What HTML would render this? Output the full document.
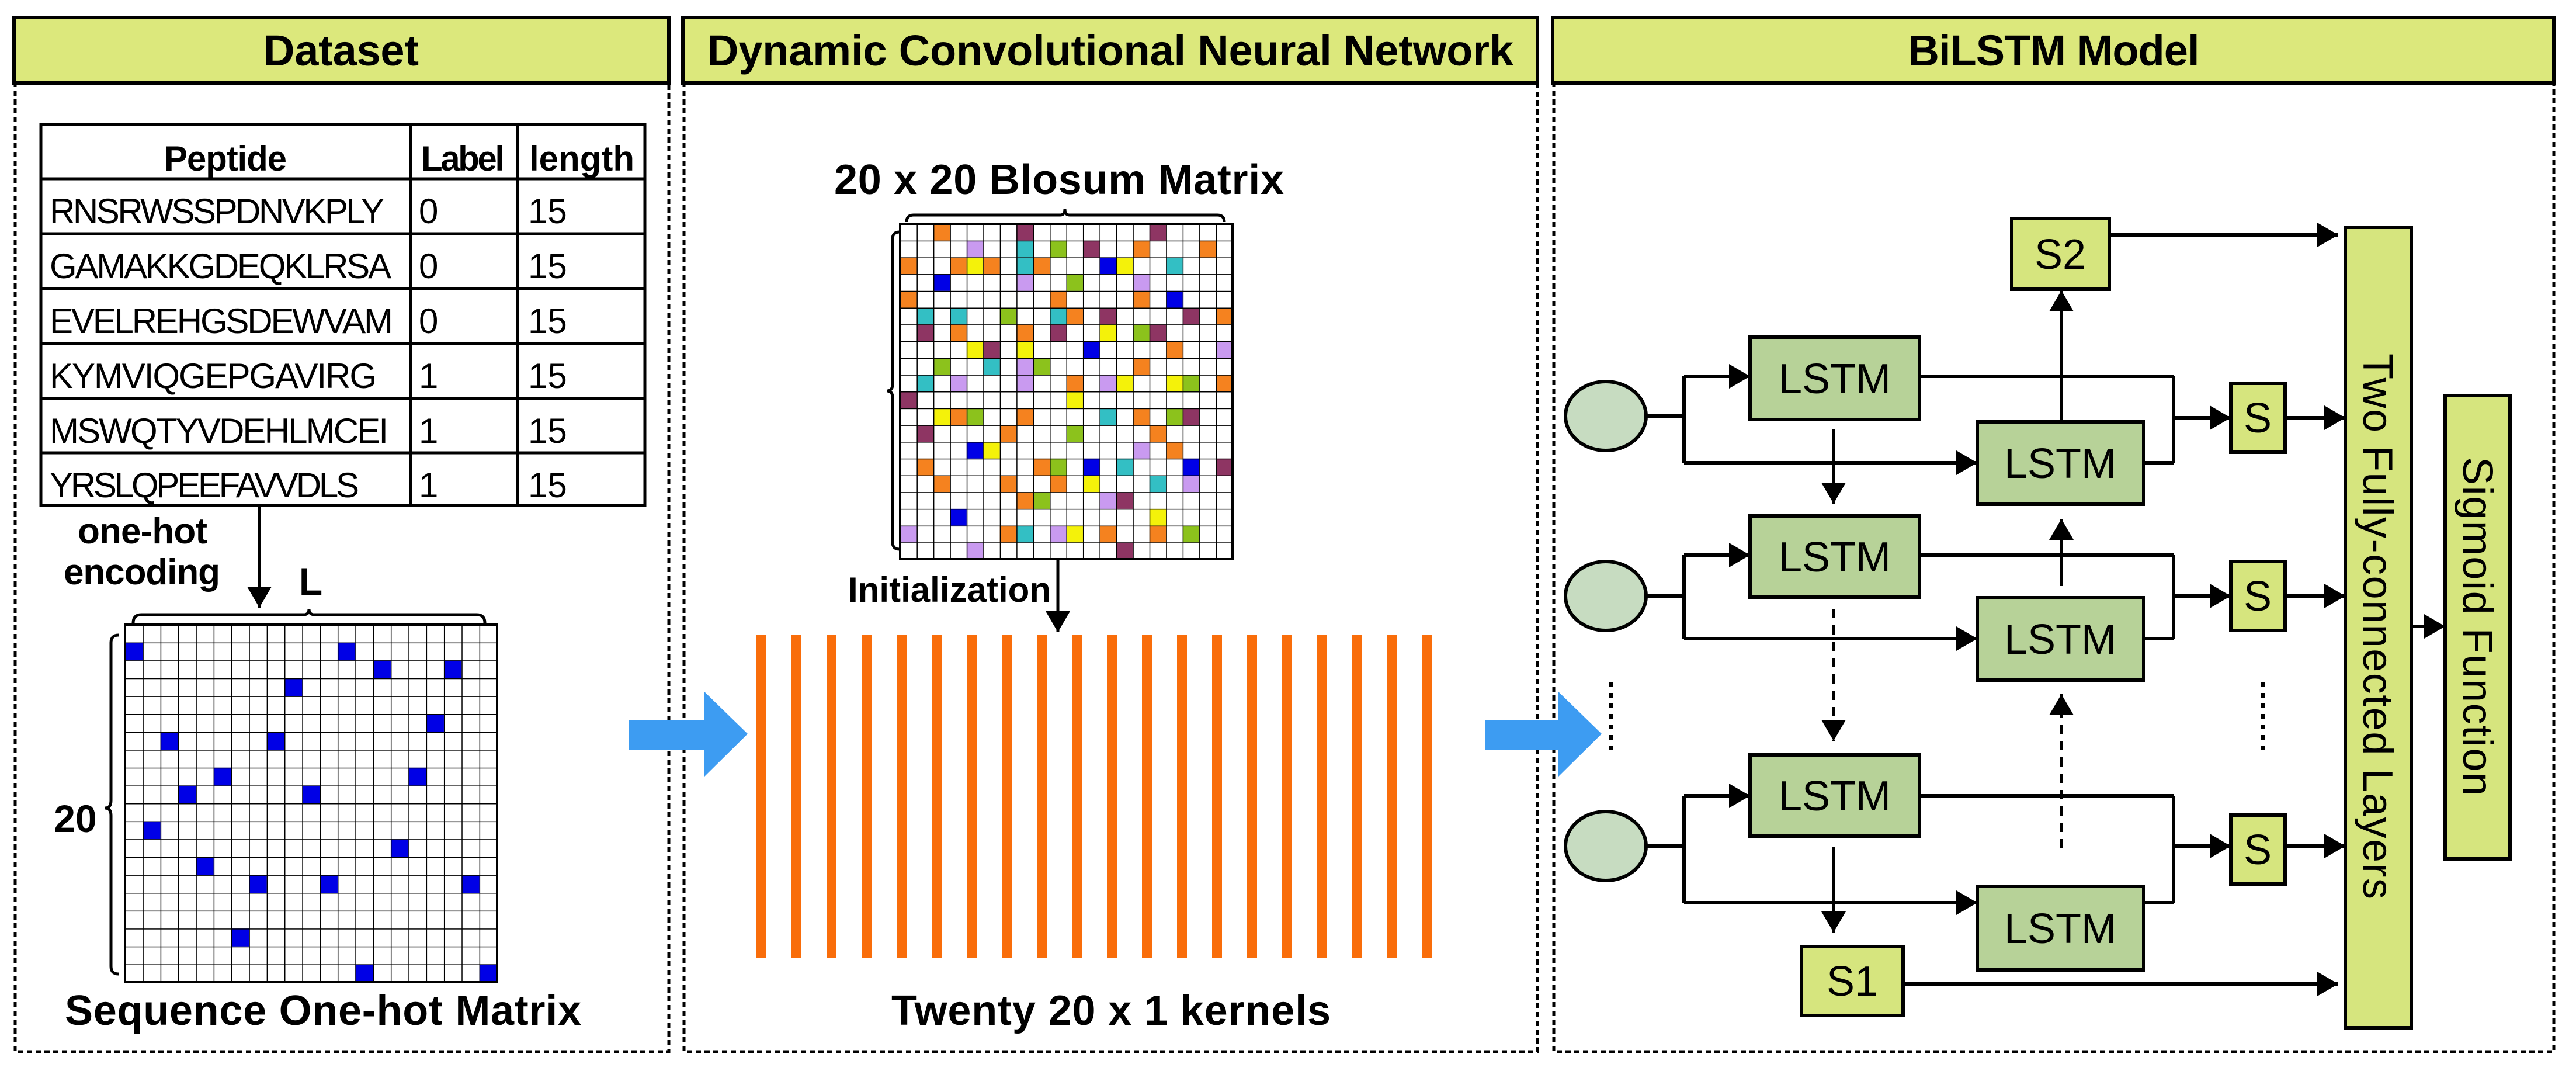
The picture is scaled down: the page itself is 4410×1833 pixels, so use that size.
<!DOCTYPE html>
<html><head><meta charset="utf-8"><style>
html,body{margin:0;padding:0;background:#fff;}
svg{display:block;}
text{font-family:"Liberation Sans",Arial,sans-serif;}
.b{font-weight:bold;}
.o{fill:#f5821f}.m{fill:#8e3563}.p{fill:#c99af0}.c{fill:#33bfc4}.g{fill:#8cc21c}.y{fill:#f4f20a}.bl{fill:#0000e6}
</style></head><body>
<svg width="4410" height="1833" viewBox="0 0 4410 1833" xmlns="http://www.w3.org/2000/svg">
<defs>
<marker id="ah" markerUnits="userSpaceOnUse" markerWidth="40" markerHeight="46" refX="36" refY="23" orient="auto">
<path d="M0,2 L36,23 L0,44 Z" fill="#000"/></marker>
<pattern id="g1" patternUnits="userSpaceOnUse" x="214" y="1069" width="30.33" height="30.6">
<path d="M0,0 H30.33 M0,0 V30.6" stroke="#000" stroke-width="3" fill="none"/></pattern>
<pattern id="g2" patternUnits="userSpaceOnUse" x="1541" y="383" width="28.45" height="28.7">
<path d="M0,0 H28.45 M0,0 V28.7" stroke="#000" stroke-width="3" fill="none"/></pattern>
</defs>
<rect width="4410" height="1833" fill="#fff"/>

<g fill="none" stroke="#000" stroke-width="5" stroke-dasharray="9 6">
<path d="M26,140 V1800 H1145 V140"/>
<path d="M1171,140 V1800 H2632 V140"/>
<path d="M2660,140 V1800 H4372 V140"/>
</g>
<g stroke="#000" stroke-width="6" fill="#dce87c">
<rect x="24" y="30" width="1121" height="112"/>
<rect x="1169" y="30" width="1463" height="112"/>
<rect x="2658" y="30" width="1714" height="112"/>
</g>
<text class="b" x="584" y="112" font-size="74" text-anchor="middle" textLength="266">Dataset</text>
<text class="b" x="1901" y="112" font-size="74" text-anchor="middle" textLength="1380">Dynamic Convolutional Neural Network</text>
<text class="b" x="3516" y="112" font-size="74" text-anchor="middle" textLength="499">BiLSTM Model</text>

<g stroke="#000" stroke-width="5" fill="none">
<rect x="70" y="213" width="1034" height="652"/>
<path d="M703,213 V865 M886,213 V865 M70,306 H1104 M70,400 H1104 M70,494 H1104 M70,588 H1104 M70,682 H1104 M70,775 H1104"/>
</g>
<g font-size="60">
<text class="b" x="386" y="292" text-anchor="middle" font-size="60" textLength="210">Peptide</text>
<text class="b" x="721" y="292" textLength="143" font-size="60">Label</text>
<text class="b" x="906" y="292" textLength="180" font-size="60">length</text>
<text x="85" y="382" textLength="573">RNSRWSSPDNVKPLY</text>
<text x="85" y="476" textLength="585">GAMAKKGDEQKLRSA</text>
<text x="85" y="570" textLength="588">EVELREHGSDEWVAM</text>
<text x="85" y="664" textLength="560">KYMVIQGEPGAVIRG</text>
<text x="85" y="758" textLength="580">MSWQTYVDEHLMCEI</text>
<text x="85" y="851" textLength="530">YRSLQPEEFAVVDLS</text>
<text x="717" y="382">0</text><text x="717" y="476">0</text><text x="717" y="570">0</text>
<text x="717" y="664">1</text><text x="717" y="758">1</text><text x="717" y="851">1</text>
<text x="904" y="382">15</text><text x="904" y="476">15</text><text x="904" y="570">15</text>
<text x="904" y="664">15</text><text x="904" y="758">15</text><text x="904" y="851">15</text>
</g>
<line x1="444" y1="865" x2="444" y2="1040" stroke="#000" stroke-width="6" marker-end="url(#ah)"/>
<text class="b" x="244" y="930" font-size="62" text-anchor="middle" textLength="222">one-hot</text>
<text class="b" x="243" y="1000" font-size="62" text-anchor="middle" textLength="268">encoding</text>
<text class="b" x="532" y="1018" font-size="66" text-anchor="middle">L</text>
<path d="M228,1066 Q228,1052 242,1052 H520 Q529,1052 529,1042 Q529,1052 538,1052 H816 Q830,1052 830,1066" fill="none" stroke="#000" stroke-width="5"/>
<path d="M203,1087 Q190,1087 190,1100 V1370 Q190,1383 180,1383 Q190,1383 190,1396 V1654 Q190,1667 203,1667" fill="none" stroke="#000" stroke-width="5"/>
<text class="b" x="129" y="1424" font-size="66" text-anchor="middle">20</text>

<rect x="214" y="1069" width="637" height="612" fill="#fff"/>
<g transform="translate(214,1069) scale(30.33,30.6)" class="bl">
<rect x="0" y="1" width="1" height="1"/><rect x="12" y="1" width="1" height="1"/>
<rect x="14" y="2" width="1" height="1"/><rect x="18" y="2" width="1" height="1"/>
<rect x="9" y="3" width="1" height="1"/><rect x="17" y="5" width="1" height="1"/>
<rect x="2" y="6" width="1" height="1"/><rect x="8" y="6" width="1" height="1"/>
<rect x="5" y="8" width="1" height="1"/><rect x="16" y="8" width="1" height="1"/>
<rect x="3" y="9" width="1" height="1"/><rect x="10" y="9" width="1" height="1"/>
<rect x="1" y="11" width="1" height="1"/><rect x="15" y="12" width="1" height="1"/>
<rect x="4" y="13" width="1" height="1"/><rect x="7" y="14" width="1" height="1"/>
<rect x="11" y="14" width="1" height="1"/><rect x="19" y="14" width="1" height="1"/>
<rect x="6" y="17" width="1" height="1"/><rect x="13" y="19" width="1" height="1"/>
<rect x="20" y="19" width="1" height="1"/>
</g>
<rect x="214" y="1069" width="637" height="612" fill="url(#g1)"/>
<rect x="214" y="1069" width="637" height="612" fill="none" stroke="#000" stroke-width="4"/>
<text class="b" x="553" y="1754" font-size="72" text-anchor="middle" textLength="884">Sequence One-hot Matrix</text>

<path d="M1076,1233 H1205 V1183 L1280,1256 L1205,1330 V1283 H1076 Z" fill="#3d9cf2"/>
<path d="M2543,1233 H2667 V1183 L2742,1256 L2667,1330 V1283 H2543 Z" fill="#3d9cf2"/>

<text class="b" x="1813" y="332" font-size="72" text-anchor="middle" textLength="770">20 x 20 Blosum Matrix</text>
<path d="M1552,380 Q1552,368 1564,368 H1815 Q1823,368 1823,358 Q1823,368 1831,368 H2084 Q2096,368 2096,380" fill="none" stroke="#000" stroke-width="5"/>
<path d="M1540,397 Q1528,397 1528,409 V658 Q1528,669 1518,669 Q1528,669 1528,680 V928 Q1528,940 1540,940" fill="none" stroke="#000" stroke-width="5"/>
<rect x="1541" y="383" width="569" height="574" fill="#fff"/>
<g transform="translate(1541,383) scale(28.45,28.7)">
<rect class="o" x="2" y="0" width="1" height="1"/><rect class="m" x="7" y="0" width="1" height="1"/><rect class="m" x="15" y="0" width="1" height="1"/>
<rect class="p" x="4" y="1" width="1" height="1"/><rect class="c" x="7" y="1" width="1" height="1"/><rect class="g" x="9" y="1" width="1" height="1"/><rect class="m" x="11" y="1" width="1" height="1"/><rect class="o" x="14" y="1" width="1" height="1"/><rect class="o" x="18" y="1" width="1" height="1"/>
<rect class="o" x="0" y="2" width="1" height="1"/><rect class="o" x="3" y="2" width="1" height="1"/><rect class="y" x="4" y="2" width="1" height="1"/><rect class="o" x="5" y="2" width="1" height="1"/><rect class="c" x="7" y="2" width="1" height="1"/><rect class="o" x="8" y="2" width="1" height="1"/><rect class="bl" x="12" y="2" width="1" height="1"/><rect class="y" x="13" y="2" width="1" height="1"/><rect class="c" x="16" y="2" width="1" height="1"/>
<rect class="bl" x="2" y="3" width="1" height="1"/><rect class="p" x="7" y="3" width="1" height="1"/><rect class="g" x="10" y="3" width="1" height="1"/><rect class="p" x="14" y="3" width="1" height="1"/>
<rect class="o" x="0" y="4" width="1" height="1"/><rect class="o" x="9" y="4" width="1" height="1"/><rect class="o" x="14" y="4" width="1" height="1"/><rect class="bl" x="16" y="4" width="1" height="1"/>
<rect class="c" x="1" y="5" width="1" height="1"/><rect class="c" x="3" y="5" width="1" height="1"/><rect class="g" x="6" y="5" width="1" height="1"/><rect class="c" x="9" y="5" width="1" height="1"/><rect class="o" x="10" y="5" width="1" height="1"/><rect class="m" x="12" y="5" width="1" height="1"/><rect class="m" x="17" y="5" width="1" height="1"/><rect class="o" x="19" y="5" width="1" height="1"/>
<rect class="m" x="1" y="6" width="1" height="1"/><rect class="o" x="3" y="6" width="1" height="1"/><rect class="o" x="7" y="6" width="1" height="1"/><rect class="m" x="9" y="6" width="1" height="1"/><rect class="y" x="12" y="6" width="1" height="1"/><rect class="g" x="14" y="6" width="1" height="1"/><rect class="m" x="15" y="6" width="1" height="1"/>
<rect class="y" x="4" y="7" width="1" height="1"/><rect class="m" x="5" y="7" width="1" height="1"/><rect class="y" x="7" y="7" width="1" height="1"/><rect class="bl" x="11" y="7" width="1" height="1"/><rect class="o" x="16" y="7" width="1" height="1"/><rect class="p" x="19" y="7" width="1" height="1"/>
<rect class="g" x="2" y="8" width="1" height="1"/><rect class="c" x="5" y="8" width="1" height="1"/><rect class="p" x="7" y="8" width="1" height="1"/><rect class="g" x="8" y="8" width="1" height="1"/><rect class="o" x="14" y="8" width="1" height="1"/>
<rect class="c" x="1" y="9" width="1" height="1"/><rect class="p" x="3" y="9" width="1" height="1"/><rect class="p" x="7" y="9" width="1" height="1"/><rect class="o" x="10" y="9" width="1" height="1"/><rect class="p" x="12" y="9" width="1" height="1"/><rect class="y" x="13" y="9" width="1" height="1"/><rect class="y" x="16" y="9" width="1" height="1"/><rect class="g" x="17" y="9" width="1" height="1"/><rect class="o" x="19" y="9" width="1" height="1"/>
<rect class="m" x="0" y="10" width="1" height="1"/><rect class="y" x="10" y="10" width="1" height="1"/>
<rect class="y" x="2" y="11" width="1" height="1"/><rect class="o" x="3" y="11" width="1" height="1"/><rect class="g" x="4" y="11" width="1" height="1"/><rect class="o" x="7" y="11" width="1" height="1"/><rect class="c" x="12" y="11" width="1" height="1"/><rect class="o" x="14" y="11" width="1" height="1"/><rect class="g" x="16" y="11" width="1" height="1"/><rect class="m" x="17" y="11" width="1" height="1"/>
<rect class="m" x="1" y="12" width="1" height="1"/><rect class="o" x="6" y="12" width="1" height="1"/><rect class="g" x="10" y="12" width="1" height="1"/><rect class="o" x="15" y="12" width="1" height="1"/>
<rect class="bl" x="4" y="13" width="1" height="1"/><rect class="y" x="5" y="13" width="1" height="1"/><rect class="p" x="14" y="13" width="1" height="1"/><rect class="o" x="16" y="13" width="1" height="1"/>
<rect class="o" x="1" y="14" width="1" height="1"/><rect class="o" x="8" y="14" width="1" height="1"/><rect class="g" x="9" y="14" width="1" height="1"/><rect class="bl" x="11" y="14" width="1" height="1"/><rect class="c" x="13" y="14" width="1" height="1"/><rect class="bl" x="17" y="14" width="1" height="1"/><rect class="m" x="19" y="14" width="1" height="1"/>
<rect class="o" x="2" y="15" width="1" height="1"/><rect class="o" x="6" y="15" width="1" height="1"/><rect class="o" x="9" y="15" width="1" height="1"/><rect class="y" x="11" y="15" width="1" height="1"/><rect class="c" x="15" y="15" width="1" height="1"/><rect class="p" x="17" y="15" width="1" height="1"/>
<rect class="o" x="7" y="16" width="1" height="1"/><rect class="g" x="8" y="16" width="1" height="1"/><rect class="p" x="12" y="16" width="1" height="1"/><rect class="m" x="13" y="16" width="1" height="1"/>
<rect class="bl" x="3" y="17" width="1" height="1"/><rect class="y" x="15" y="17" width="1" height="1"/>
<rect class="p" x="0" y="18" width="1" height="1"/><rect class="o" x="6" y="18" width="1" height="1"/><rect class="c" x="7" y="18" width="1" height="1"/><rect class="p" x="9" y="18" width="1" height="1"/><rect class="y" x="10" y="18" width="1" height="1"/><rect class="o" x="12" y="18" width="1" height="1"/><rect class="o" x="15" y="18" width="1" height="1"/><rect class="g" x="17" y="18" width="1" height="1"/>
<rect class="p" x="4" y="19" width="1" height="1"/><rect class="m" x="13" y="19" width="1" height="1"/>
</g>
<rect x="1541" y="383" width="569" height="574" fill="url(#g2)"/>
<rect x="1541" y="383" width="569" height="574" fill="none" stroke="#000" stroke-width="4"/>
<text class="b" x="1452" y="1030" font-size="60" textLength="347">Initialization</text>
<line x1="1811" y1="957" x2="1811" y2="1082" stroke="#000" stroke-width="5" marker-end="url(#ah)"/>

<g fill="#f96d0a">
<rect x="1295" y="1086" width="17" height="554"/><rect x="1355" y="1086" width="17" height="554"/><rect x="1415" y="1086" width="17" height="554"/><rect x="1475" y="1086" width="17" height="554"/><rect x="1535" y="1086" width="17" height="554"/>
<rect x="1595" y="1086" width="17" height="554"/><rect x="1655" y="1086" width="17" height="554"/><rect x="1715" y="1086" width="17" height="554"/><rect x="1775" y="1086" width="17" height="554"/><rect x="1835" y="1086" width="17" height="554"/>
<rect x="1895" y="1086" width="17" height="554"/><rect x="1955" y="1086" width="17" height="554"/><rect x="2015" y="1086" width="17" height="554"/><rect x="2075" y="1086" width="17" height="554"/><rect x="2135" y="1086" width="17" height="554"/>
<rect x="2195" y="1086" width="17" height="554"/><rect x="2255" y="1086" width="17" height="554"/><rect x="2315" y="1086" width="17" height="554"/><rect x="2375" y="1086" width="17" height="554"/><rect x="2435" y="1086" width="17" height="554"/>
</g>
<text class="b" x="1902" y="1754" font-size="72" text-anchor="middle" textLength="752">Twenty 20 x 1 kernels</text>

<g stroke="#000" stroke-width="6" fill="none">
<path d="M2818,712 H2883 M2883,644 V792 M3286,644 H3721 M3670,792 H3721 M3721,644 V792"/>
<line x1="2883" y1="644" x2="2996" y2="644" marker-end="url(#ah)"/>
<line x1="2883" y1="792" x2="3385" y2="792" marker-end="url(#ah)"/>
<line x1="3721" y1="715" x2="3819" y2="715" marker-end="url(#ah)"/>
<line x1="3912" y1="715" x2="4015" y2="715" marker-end="url(#ah)"/>
<path d="M2818,1020 H2883 M2883,950 V1093 M3286,950 H3721 M3670,1093 H3721 M3721,950 V1093"/>
<line x1="2883" y1="950" x2="2996" y2="950" marker-end="url(#ah)"/>
<line x1="2883" y1="1093" x2="3385" y2="1093" marker-end="url(#ah)"/>
<line x1="3721" y1="1020" x2="3819" y2="1020" marker-end="url(#ah)"/>
<line x1="3912" y1="1020" x2="4015" y2="1020" marker-end="url(#ah)"/>
<path d="M2818,1448 H2883 M2883,1362 V1545 M3286,1362 H3721 M3670,1545 H3721 M3721,1362 V1545"/>
<line x1="2883" y1="1362" x2="2996" y2="1362" marker-end="url(#ah)"/>
<line x1="2883" y1="1545" x2="3385" y2="1545" marker-end="url(#ah)"/>
<line x1="3721" y1="1448" x2="3819" y2="1448" marker-end="url(#ah)"/>
<line x1="3912" y1="1448" x2="4015" y2="1448" marker-end="url(#ah)"/>
<line x1="3139" y1="735" x2="3139" y2="862" marker-end="url(#ah)"/>
<line x1="3139" y1="1042" x2="3139" y2="1268" stroke-dasharray="16 12" marker-end="url(#ah)"/>
<line x1="3139" y1="1450" x2="3139" y2="1596" marker-end="url(#ah)"/>
<line x1="3529" y1="1003" x2="3529" y2="888" marker-end="url(#ah)"/>
<line x1="3529" y1="1452" x2="3529" y2="1188" stroke-dasharray="16 12" marker-end="url(#ah)"/>
<line x1="3529" y1="722" x2="3529" y2="497" marker-end="url(#ah)"/>
<line x1="3611" y1="402" x2="4003" y2="402" marker-end="url(#ah)"/>
<line x1="3258" y1="1684" x2="4003" y2="1684" marker-end="url(#ah)"/>
<line x1="4128" y1="1072" x2="4186" y2="1072" marker-end="url(#ah)"/>
</g>
<g stroke="#000" stroke-width="6" stroke-dasharray="8 10">
<line x1="2758" y1="1168" x2="2758" y2="1292"/>
<line x1="3874" y1="1168" x2="3874" y2="1292"/>
</g>
<g stroke="#000" stroke-width="6" fill="#c7dcc1">
<ellipse cx="2749" cy="712" rx="69" ry="59"/>
<ellipse cx="2749" cy="1020" rx="69" ry="59"/>
<ellipse cx="2749" cy="1448" rx="69" ry="59"/>
</g>
<g stroke="#000" stroke-width="6" fill="#b7d298">
<rect x="2996" y="577" width="290" height="141"/>
<rect x="3385" y="722" width="285" height="141"/>
<rect x="2996" y="883" width="290" height="139"/>
<rect x="3385" y="1023" width="285" height="141"/>
<rect x="2996" y="1292" width="290" height="139"/>
<rect x="3385" y="1517" width="285" height="143"/>
</g>
<g stroke="#000" stroke-width="6" fill="#d6e57e">
<rect x="3444" y="374" width="167" height="121"/>
<rect x="3819" y="656" width="93" height="118"/>
<rect x="3819" y="961" width="93" height="118"/>
<rect x="3819" y="1395" width="93" height="118"/>
<rect x="3084" y="1620" width="174" height="118"/>
<rect x="4015" y="389" width="113" height="1370"/>
<rect x="4186" y="677" width="111" height="793"/>
</g>
<g font-size="72" text-anchor="middle">
<text x="3141" y="673">LSTM</text>
<text x="3527" y="818">LSTM</text>
<text x="3141" y="978">LSTM</text>
<text x="3527" y="1119">LSTM</text>
<text x="3141" y="1387">LSTM</text>
<text x="3527" y="1614">LSTM</text>
<text x="3527" y="460">S2</text>
<text x="3865" y="740">S</text>
<text x="3865" y="1045">S</text>
<text x="3865" y="1479">S</text>
<text x="3171" y="1704">S1</text>
</g>
<text x="0" y="0" font-size="72" text-anchor="middle" textLength="934" transform="translate(4046,1072) rotate(90)">Two Fully-connected Layers</text>
<text x="0" y="0" font-size="72" text-anchor="middle" textLength="580" transform="translate(4217,1072) rotate(90)">Sigmoid Function</text>
</svg>
</body></html>
